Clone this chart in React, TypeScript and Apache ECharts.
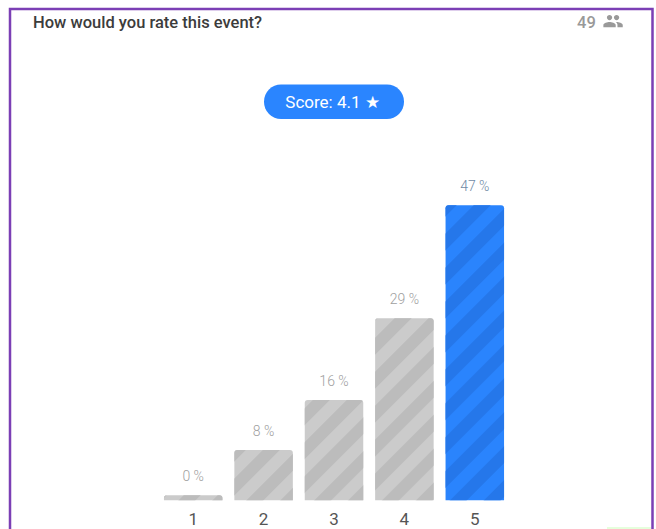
import React, { useEffect, useRef } from "react";
import * as echarts from "echarts";

const categories = ["1", "2", "3", "4", "5"];
const percentages = [0, 8, 16, 29, 47];
const titleText = "How would you rate this event?";
const respondents = "49";
const scoreText = "Score: 4.1 ★";
const FONT = "Roboto, sans-serif";
const PEOPLE =
  "M16 11c1.66 0 2.99-1.34 2.99-3S17.66 5 16 5c-1.66 0-3 1.34-3 3s1.34 3 3 3zm-8 0c1.66 0 2.99-1.34 2.99-3S9.66 5 8 5C6.34 5 5 6.34 5 8s1.34 3 3 3zm0 2c-2.33 0-7 1.17-7 3.5V19h14v-2.5c0-2.33-4.67-3.5-7-3.5zm8 0c-.29 0-.62.02-.97.05 1.16.84 1.97 1.97 1.97 3.45V19h6v-2.5c0-2.33-4.67-3.5-7-3.5z";

echarts.graphic.registerShape("people", echarts.graphic.extendPath(PEOPLE, {}) as any);

export default function App() {
  const ref = useRef<HTMLDivElement>(null);
  useEffect(() => {
    document.body.style.margin = "0";
    const chart = echarts.init(ref.current!, null, { renderer: "svg" });
    const decal = (color: string) => ({
      symbol: "rect",
      symbolSize: 1,
      dashArrayX: [1, 0],
      dashArrayY: [12, 12],
      rotation: -Math.PI / 4,
      color,
    });
    chart.setOption({
      animation: false,
      backgroundColor: "#ffffff",
      grid: { left: 158, right: 146, top: 186.5, bottom: 28.7 },
      xAxis: {
        type: "category",
        data: categories,
        axisLine: { show: false },
        axisTick: { show: false },
        axisLabel: { color: "#555555", fontSize: 17, fontFamily: FONT, margin: 10 },
      },
      yAxis: { type: "value", min: 0, max: 50, show: false },
      series: [
        {
          type: "bar",
          barWidth: 58.5,
          barMinHeight: 5,
          data: percentages.map((v, i) => ({
            value: v,
            itemStyle: {
              color: i === 4 ? "#2a84fd" : "#cbcbcb",
              borderRadius: [3, 3, 0, 0],
              decal: decal(i === 4 ? "#2577ea" : "#bcbcbc"),
            },
            label: { color: i === 4 ? "#6f8aa5" : "#a0a0a0" },
          })),
          label: {
            show: true,
            position: "top",
            distance: 12,
            formatter: "{c} %",
            fontSize: 14,
            fontWeight: 300,
            fontFamily: FONT,
          },
        },
      ],
      graphic: [
        { type: "rect", shape: { x: 10, y: 9, width: 642.5, height: 540 }, style: { fill: "none", stroke: "#7b3fb5", lineWidth: 2.5 } },
        { type: "rect", shape: { x: 607, y: 527, width: 44, height: 2 }, style: { fill: "#e6ffdc" } },
        { type: "text", x: 33, y: 22, style: { text: titleText, fill: "#3c3c3c", font: `500 16.5px ${FONT}`, textVerticalAlign: "middle" } },
        { type: "text", x: 577, y: 22, style: { text: respondents, fill: "#999999", font: `500 16.5px ${FONT}`, textVerticalAlign: "middle" } },
        { type: "people", x: 602.5, y: 10.5, scaleX: 0.88, scaleY: 0.88, style: { fill: "#999999" } },
        { type: "rect", shape: { x: 264, y: 84.5, width: 140, height: 34.5, r: 17 }, style: { fill: "#2a85ff" } },
        { type: "text", x: 332.5, y: 102, style: { text: scoreText, fill: "#ffffff", font: `400 17px ${FONT}`, textAlign: "center", textVerticalAlign: "middle" } },
      ],
    });
    return () => chart.dispose();
  }, []);
  return <div ref={ref} style={{ width: 656, height: 529 }} />;
}
